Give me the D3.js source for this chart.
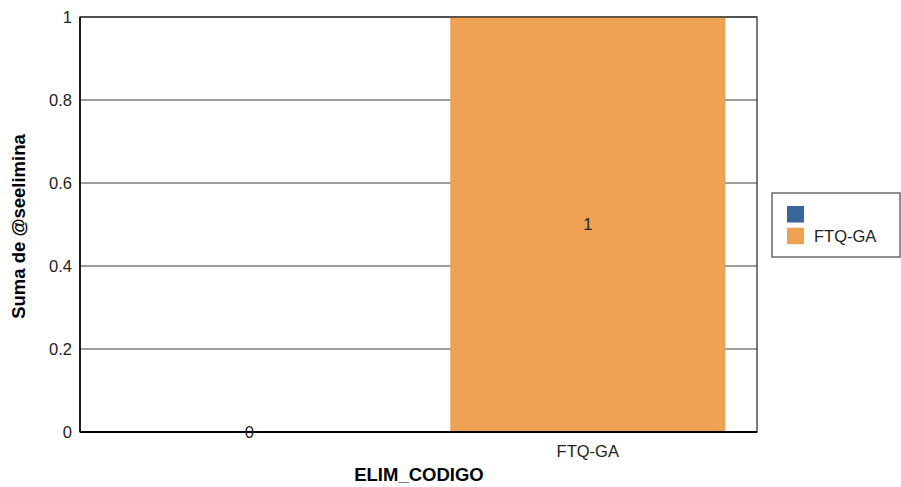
<!DOCTYPE html>
<html>
<head>
<meta charset="utf-8">
<script src="https://cdn.jsdelivr.net/npm/d3@7"></script>
<style>
  body { margin: 0; background: #fff; }
  text { font-family: "Liberation Sans", Arial, sans-serif; }
</style>
</head>
<body>
<svg id="chart"></svg>
<script>
// Chart data
const categories = ['', 'FTQ-GA'];
const values = [0, 1];
const yTicks = [0, 0.2, 0.4, 0.6, 0.8, 1];
const yTickLabels = ['0', '0.2', '0.4', '0.6', '0.8', '1'];
const legendLabels = ['', 'FTQ-GA'];

const BLUE = '#3a659a';
const ORANGE = '#efa253';
const COLORS = [BLUE, ORANGE];

const WIDTH = 901, HEIGHT = 487;
const margin = {top: 17, right: 144, bottom: 55, left: 80};
const LABEL_SIZE = 16.5;
const TITLE_SIZE = 18.5;

const svg = d3.select('svg#chart').attr('width', WIDTH).attr('height', HEIGHT);

const x = d3.scaleBand()
    .domain(categories)
    .range([margin.left, WIDTH - margin.right])
    .paddingInner(0.1876)
    .paddingOuter(0.0938);

const y = d3.scaleLinear()
    .domain([0, 1])
    .range([HEIGHT - margin.bottom, margin.top]);

// Gridlines
svg.append('g')
    .selectAll('line')
    .data(yTicks.slice(1))
    .join('line')
    .attr('x1', margin.left).attr('x2', WIDTH - margin.right)
    .attr('y1', d => y(d)).attr('y2', d => y(d))
    .attr('stroke', '#3a3a3a').attr('stroke-width', 1);

// Bars
svg.append('g')
    .selectAll('rect')
    .data(values)
    .join('rect')
    .attr('x', (d, i) => x(categories[i]))
    .attr('width', x.bandwidth())
    .attr('y', d => y(d))
    .attr('height', d => y(0) - y(d))
    .attr('fill', (d, i) => COLORS[i]);

// Plot frame
svg.append('rect')
    .attr('x', margin.left).attr('y', margin.top)
    .attr('width', WIDTH - margin.right - margin.left)
    .attr('height', HEIGHT - margin.bottom - margin.top)
    .attr('fill', 'none').attr('stroke', '#222').attr('stroke-width', 1.2);
svg.append('line')
    .attr('x1', margin.left).attr('x2', WIDTH - margin.right)
    .attr('y1', y(0)).attr('y2', y(0))
    .attr('stroke', '#000').attr('stroke-width', 2);
svg.append('line')
    .attr('x1', margin.left).attr('x2', margin.left)
    .attr('y1', margin.top).attr('y2', y(0))
    .attr('stroke', '#000').attr('stroke-width', 1.5);

// Y axis labels
svg.append('g')
    .selectAll('text')
    .data(yTicks)
    .join('text')
    .attr('x', margin.left - 8)
    .attr('y', d => y(d))
    .attr('dy', '0.35em')
    .attr('text-anchor', 'end')
    .attr('font-size', LABEL_SIZE)
    .attr('fill', '#222')
    .text((d, i) => yTickLabels[i]);

// X axis labels
svg.append('g')
    .selectAll('text')
    .data(categories)
    .join('text')
    .attr('x', d => x(d) + x.bandwidth() / 2)
    .attr('y', y(0) + 25)
    .attr('text-anchor', 'middle')
    .attr('font-size', LABEL_SIZE)
    .attr('fill', '#222')
    .text(d => d);

// Value labels
svg.append('g')
    .selectAll('text')
    .data(values)
    .join('text')
    .attr('x', (d, i) => x(categories[i]) + x.bandwidth() / 2)
    .attr('y', d => (y(d) + y(0)) / 2)
    .attr('dy', '0.35em')
    .attr('text-anchor', 'middle')
    .attr('font-size', LABEL_SIZE)
    .attr('fill', '#222')
    .text(d => d);

// Axis titles
svg.append('text')
    .attr('x', 419)
    .attr('y', 481)
    .attr('text-anchor', 'middle')
    .attr('font-size', TITLE_SIZE).attr('font-weight', 'bold')
    .text('ELIM_CODIGO');

svg.append('text')
    .attr('transform', `translate(25, ${(margin.top + y(0)) / 2 + 2}) rotate(-90)`)
    .attr('text-anchor', 'middle')
    .attr('font-size', TITLE_SIZE).attr('font-weight', 'bold')
    .text('Suma de @seelimina');

// Legend
const legend = svg.append('g');
legend.append('rect')
    .attr('x', 772).attr('y', 193).attr('width', 128).attr('height', 64)
    .attr('fill', '#fff').attr('stroke', '#555').attr('stroke-width', 1.3);

const items = legend.selectAll('g.item')
    .data(legendLabels)
    .join('g')
    .attr('class', 'item')
    .attr('transform', (d, i) => `translate(787, ${206 + i * 21.7})`);
items.append('rect')
    .attr('width', 17).attr('height', 16.5)
    .attr('fill', (d, i) => COLORS[i]);
items.append('text')
    .attr('x', 27).attr('y', 8.5)
    .attr('dy', '0.35em')
    .attr('font-size', LABEL_SIZE)
    .attr('fill', '#222')
    .text(d => d);
</script>
</body>
</html>
